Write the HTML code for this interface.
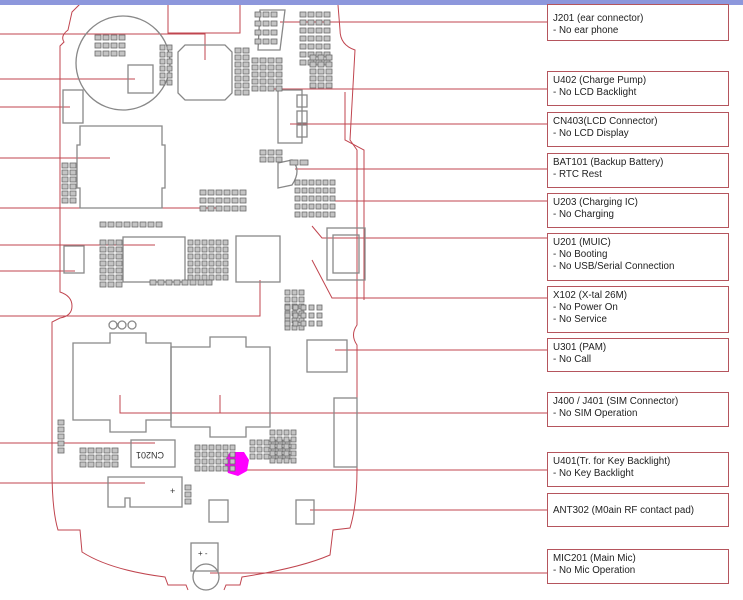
<!DOCTYPE html>
<html><head><meta charset="utf-8"><style>
html,body{margin:0;padding:0;background:#fff;}
body{width:743px;height:600px;position:relative;overflow:hidden;font-family:"Liberation Sans",sans-serif;}
.bar{position:absolute;left:0;top:0;width:743px;height:5px;background:#8d97dc;}
.box{position:absolute;left:547px;border:1px solid #b5555d;font-size:9.8px;line-height:12px;color:#222;padding:3px 0 0 5px;box-sizing:border-box;width:182px;}
</style></head><body>
<svg width="743" height="600" style="position:absolute;left:0;top:0">
<g fill="none" stroke="#c0454f" stroke-width="1">
<path d="M168,0 L168,33 L240,33 L240,0"/>
<path d="M80,4 L72,12 L68,30 Q60,36 64,42 L60,46 L60,292 Q72,296 72,306 Q72,316 60,318 L52,322 L52,470 Q52,510 58,530 L80,530 L82,552 Q110,570 165,577 L168,585 L186,585 L188,590 M224,590 L226,585 L240,585 L242,577 Q300,568 330,555 L333,530 L350,528 Q357,505 357,470 L357,345 Q350,335 357,325 L357,150 L350,140 L355,50 Q340,45 340,30 L338,5"/>
<path d="M345,92 L345,140 L364,150 L364,300"/>
<path d="M280,22 L547,22"/>
<path d="M270,89 L547,89"/>
<path d="M290,124 L547,124"/>
<path d="M295,169 L547,169"/>
<path d="M335,201 L547,201"/>
<path d="M312,226 L322,238 L547,238"/>
<path d="M312,260 L332,298 L547,298"/>
<path d="M335,350 L547,350"/>
<path d="M120,395 L120,413 L547,413 M220,395 L220,413"/>
<path d="M245,470 L547,470"/>
<path d="M310,510 L547,510"/>
<path d="M210,573 L547,573"/>
<path d="M0,34 L205,34 L205,60"/>
<path d="M0,79 L135,79"/>
<path d="M0,107 L70,107"/>
<path d="M0,158 L110,158"/>
<path d="M0,208 L222,208"/>
<path d="M0,245 L155,245"/>
<path d="M0,271 L75,271"/>
<path d="M0,316 L260,316 L260,280"/>
<path d="M0,443 L155,443"/>
<path d="M0,483 L145,483"/>
</g>
<g fill="none" stroke="#888" stroke-width="1.3">
<circle cx="123" cy="63" r="47"/>
<rect x="128" y="65" width="25" height="28"/>
<path d="M185,45 L225,45 L232,52 L232,93 L225,100 L185,100 L178,93 L178,52 Z"/>
<rect x="63" y="90" width="20" height="33"/>
<path d="M80,126 L162,126 L162,145 L165,145 L165,188 L162,188 L162,208 L80,208 L80,188 L77,188 L77,145 L80,145 Z"/>
<rect x="123" y="237" width="62" height="45"/>
<rect x="236" y="236" width="44" height="46"/>
<rect x="64" y="246" width="20" height="27"/>
<rect x="278" y="90" width="24" height="53"/>
<path d="M278,163 L292,160 Q302,170 292,185 L278,188 Z"/>
<rect x="327" y="228" width="38" height="52"/>
<rect x="333" y="235" width="26" height="38"/>
<rect x="307" y="340" width="40" height="32"/>
<path d="M73,343 L110,343 L110,333 L146,333 L146,343 L171,343 L171,420 L146,420 L146,432 L110,432 L110,420 L73,420 Z"/>
<path d="M171,347 L210,347 L210,337 L246,337 L246,347 L270,347 L270,427 L246,427 L246,437 L210,437 L210,427 L171,427 Z"/>
<rect x="131" y="440" width="44" height="27"/>
<path d="M108,477 L182,477 L182,507 L130,507 L130,498 L125,498 L125,507 L108,507 Z"/>
<rect x="334" y="398" width="23" height="69"/>
<rect x="209" y="500" width="19" height="22"/>
<rect x="296" y="500" width="18" height="24"/>
<rect x="191" y="543" width="27" height="28"/>
<circle cx="206" cy="577" r="13"/>
<path d="M260,10 L285,10 L280,50 L258,50 Z"/>
<circle cx="113" cy="325" r="4"/><circle cx="122" cy="325" r="4"/><circle cx="132" cy="325" r="4"/>
<rect x="297" y="95" width="10" height="12"/><rect x="297" y="111" width="10" height="12"/><rect x="297" y="125" width="10" height="12"/>
</g>
<path d="M230,452 L244,452 L249,460 L247,471 L238,476 L228,473 L224,462 Z" fill="#ff00ff"/>
<g fill="#c4c4c4" stroke="#6a6a6a" stroke-width="0.8" id="small"></g>
<g font-size="9" fill="#333" font-family="Liberation Sans"><text x="140" y="460" transform="rotate(180 152 456)">CN201</text>
<text x="198" y="556" font-size="8">+ -</text><text x="170" y="494" font-size="9">+</text></g>
</svg>
<div class="bar"></div>
<div class="box" style="top:4px;height:37px;padding-top:8px">J201 (ear connector)<br>- No ear phone</div>
<div class="box" style="top:71px;height:35px">U402 (Charge Pump)<br>- No LCD Backlight</div>
<div class="box" style="top:112px;height:35px">CN403(LCD Connector)<br>- No LCD Display</div>
<div class="box" style="top:153px;height:35px">BAT101 (Backup Battery)<br>- RTC Rest</div>
<div class="box" style="top:193px;height:35px">U203 (Charging IC)<br>- No Charging</div>
<div class="box" style="top:233px;height:48px">U201 (MUIC)<br>- No Booting<br>- No USB/Serial Connection</div>
<div class="box" style="top:286px;height:47px">X102 (X-tal 26M)<br>- No Power On<br>- No Service</div>
<div class="box" style="top:338px;height:34px">U301 (PAM)<br>- No Call</div>
<div class="box" style="top:392px;height:35px">J400 / J401 (SIM Connector)<br>- No SIM Operation</div>
<div class="box" style="top:452px;height:35px">U401(Tr. for Key Backlight)<br>- No Key Backlight</div>
<div class="box" style="top:493px;height:34px;padding-top:11px">ANT302 (M0ain RF contact pad)</div>
<div class="box" style="top:549px;height:35px">MIC201 (Main Mic)<br>- No Mic Operation</div>
<script>
var g=document.getElementById('small');
function grid(x,y,c,r,w,h,gx,gy){for(var i=0;i<c;i++)for(var j=0;j<r;j++){var e=document.createElementNS('http://www.w3.org/2000/svg','rect');e.setAttribute('x',x+i*gx);e.setAttribute('y',y+j*gy);e.setAttribute('width',w);e.setAttribute('height',h);g.appendChild(e);}}
grid(200,190,6,3,6,5,8,8);
grid(100,222,8,1,6,5,8,0);
grid(100,240,3,7,6,5,8,7);
grid(188,240,6,6,5,5,7,7);
grid(255,12,3,4,6,5,8,9);
grid(300,12,4,7,6,5,8,8);
grid(252,58,4,5,6,5,8,7);
grid(310,55,3,5,6,5,8,7);
grid(235,48,2,7,6,5,8,7);
grid(62,163,2,6,6,5,8,7);
grid(295,180,6,5,5,5,7,8);
grid(285,290,3,6,5,5,7,7);
grid(285,305,5,3,5,5,8,8);
grid(80,448,5,3,6,5,8,7);
grid(195,445,6,4,5,5,7,7);
grid(250,440,6,3,5,5,7,7);
grid(270,430,4,5,5,5,7,7);
grid(58,420,1,5,6,5,0,7);
grid(185,485,1,3,6,5,0,7);
grid(95,35,4,3,6,5,8,8);
grid(160,45,2,6,5,5,7,7);
grid(150,280,8,1,6,5,8,0);
grid(260,150,3,2,6,5,8,7);
grid(290,160,2,1,8,5,10,0);
</script>
</body></html>
